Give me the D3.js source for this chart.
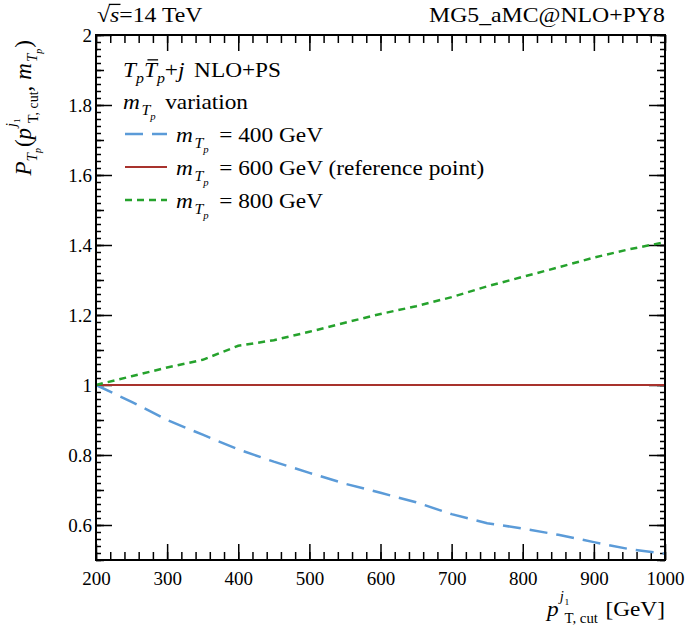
<!DOCTYPE html>
<html><head><meta charset="utf-8">
<script src="https://cdn.jsdelivr.net/npm/d3@7"></script>
<style>
body{margin:0;background:#fff}
text{font-family:"Liberation Serif","Times New Roman",serif;fill:#000}
</style>
</head><body>
<svg id="c" width="685" height="638"></svg>
<script>
// ---- data ----
const ptCut   = [200,250,300,350,400,450,500,550,600,650,700,750,800,850,900,950,1000];
const ratio400 = [1.000,0.952,0.900,0.858,0.816,0.781,0.749,0.718,0.692,0.665,0.631,0.605,0.590,0.572,0.551,0.531,0.518];
const ratio600 = [1,1,1,1,1,1,1,1,1,1,1,1,1,1,1,1,1];
const ratio800 = [1.000,1.025,1.050,1.072,1.112,1.128,1.152,1.178,1.203,1.225,1.251,1.282,1.309,1.336,1.364,1.388,1.408];
const seriesLabels = ["= 400 GeV","= 600 GeV (reference point)","= 800 GeV"];
const xTickLabels = ["200","300","400","500","600","700","800","900","1000"];
const yTickLabels = ["0.6","0.8","1","1.2","1.4","1.6","1.8","2"];

const svg = d3.select("#c");
const L=96, R=665, T=35, B=560;
const SX = 1.06; // horizontal text stretch
const x = d3.scaleLinear().domain([200,1000]).range([L,R]);
const y = d3.scaleLinear().domain([0.5,2]).range([B,T]);

const series = [
  {vals:ratio400, color:"#5b9bd8", dash:"18,9", w:2.5},
  {vals:ratio600, color:"#a8322d", dash:null, w:2.2},
  {vals:ratio800, color:"#25a22c", dash:"7,5", w:2.5}
];

// ---- axes / ticks ----
const xMajor = xTickLabels.map(Number);
const xMinor = d3.range(200,1001,20);
const yMajor = yTickLabels.map(Number);
const yMid = d3.range(5,21).map(i=>+(i*0.1).toFixed(2));
const yMinor = d3.range(25,101).map(i=>+(i*0.02).toFixed(2));

function axisG(axis, tx, ty){
  const g = svg.append("g").attr("transform",`translate(${tx},${ty})`).call(axis);
  g.attr("font-family",null).attr("font-size",null);
  g.select(".domain").remove();
  g.selectAll(".tick line").attr("stroke","#000").attr("stroke-width",1.5);
  g.selectAll(".tick text").attr("font-size",19).attr("fill","#000");
  return g;
}
// bottom
axisG(d3.axisBottom(x).tickValues(xMinor).tickSize(-8).tickFormat(""),0,B);
const xa = axisG(d3.axisBottom(x).tickValues(xMajor).tickSize(-16).tickFormat((d,i)=>xTickLabels[i]),0,B);
xa.selectAll(".tick text").attr("y",25).attr("dy",null);
// top
axisG(d3.axisTop(x).tickValues(xMinor).tickSize(-8).tickFormat(""),0,T);
axisG(d3.axisTop(x).tickValues(xMajor).tickSize(-16).tickFormat(""),0,T);
// left
axisG(d3.axisLeft(y).tickValues(yMinor).tickSize(-5).tickFormat(""),L,0);
axisG(d3.axisLeft(y).tickValues(yMid).tickSize(-8).tickFormat(""),L,0);
const ya = axisG(d3.axisLeft(y).tickValues(yMajor).tickSize(-16).tickFormat((d,i)=>yTickLabels[i]),L,0);
ya.selectAll(".tick text").attr("x",-4).attr("dy","0.33em");
// right
axisG(d3.axisRight(y).tickValues(yMinor).tickSize(-5).tickFormat(""),R,0);
axisG(d3.axisRight(y).tickValues(yMid).tickSize(-8).tickFormat(""),R,0);
axisG(d3.axisRight(y).tickValues(yMajor).tickSize(-16).tickFormat(""),R,0);

// ---- lines ----
const line = d3.line().x((d,i)=>x(ptCut[i])).y(d=>y(d));
series.forEach(s=>{
  svg.append("path").attr("d",line(s.vals)).attr("fill","none")
    .attr("stroke",s.color).attr("stroke-width",s.w)
    .attr("stroke-dasharray",s.dash);
});

// frame
svg.append("rect").attr("x",L).attr("y",T).attr("width",R-L).attr("height",B-T)
  .attr("fill","none").attr("stroke","#000").attr("stroke-width",2);

// ---- rich text helper ----
function rich(parent, runs){
  const g = parent.append("g");
  let xx=0, prevStart=0;
  runs.forEach(r=>{
    const start = (r.under ? prevStart : xx) + (r.dx||0);
    const t = g.append("text").attr("x",start).attr("y",r.dy||0)
      .attr("font-size",r.s).style("font-style",r.i?"italic":"normal").text(r.t);
    const w = t.node().getComputedTextLength();
    if(r.over){
      g.append("line").attr("x1",start+r.s*(r.ox||0.15)).attr("x2",start+w+r.s*0.05)
        .attr("y1",(r.dy||0)-r.s*(r.oy||0.78)).attr("y2",(r.dy||0)-r.s*(r.oy||0.78))
        .attr("stroke","#000").attr("stroke-width",1.3);
    }
    const end = start + w;
    if(r.under){ xx = Math.max(xx,end); }
    else { xx = end; prevStart = start; }
  });
  return {g, width:xx};
}
const mT = (s)=>[
  {t:"m",s:s,i:true},
  {t:"T",s:s*0.68,i:true,dy:s*0.27,dx:1.5},
  {t:"p",s:s*0.46,i:true,dy:s*0.5}
];

// ---- header ----
{
  const r = rich(svg,[
    {t:"√",s:22},
    {t:"s",s:22,i:true,over:true,ox:-0.05,oy:0.8},
    {t:"=14 TeV",s:22}
  ]);
  r.g.attr("transform",`translate(97,22) scale(${SX+0.02},1)`);
  const r2 = rich(svg,[{t:"MG5_aMC@NLO+PY8",s:22}]);
  r2.g.attr("transform",`translate(${R-r2.width*(SX+0.02)},22) scale(${SX+0.02},1)`);
}

// ---- legend ----
{
  const r = rich(svg,[
    {t:"T",s:22,i:true},{t:"p",s:15,i:true,dy:6},
    {t:"T",s:22,i:true,over:true},{t:"p",s:15,i:true,dy:6},
    {t:"+",s:22},{t:"j",s:22,i:true},
    {t:"NLO+PS",s:22,dx:9}
  ]);
  r.g.attr("transform",`translate(123,77) scale(${SX},1)`);
  const r2 = rich(svg,[...mT(22),{t:"variation",s:22,dx:9}]);
  r2.g.attr("transform",`translate(123,109) scale(${SX},1)`);
  series.forEach((s,k)=>{
    const ly = 134 + k*33;
    svg.append("line").attr("x1",125).attr("x2",167).attr("y1",ly).attr("y2",ly)
      .attr("stroke",s.color).attr("stroke-width",s.w).attr("stroke-dasharray",s.dash);
    const rr = rich(svg,[...mT(22),{t:seriesLabels[k],s:22,dx:10}]);
    rr.g.attr("transform",`translate(176,${ly+8}) scale(${SX},1)`);
  });
}

// ---- axis titles ----
{
  const r = rich(svg,[
    {t:"p",s:22,i:true},
    {t:"j",s:14,i:true,dy:-15,dx:1},{t:"1",s:9,dy:-11,dx:0.5},
    {t:"T, cut",s:14,dy:7,under:true},
    {t:"[GeV]",s:22,dx:7}
  ]);
  r.g.attr("transform",`translate(${R-r.width*SX},616) scale(${SX},1)`);
}
{
  const g0 = svg.append("g");
  const r = rich(g0,[
    {t:"P",s:23,i:true},
    {t:"T",s:15,i:true,dy:6},{t:"p",s:10,i:true,dy:10},
    {t:"(",s:23,dx:1},
    {t:"p",s:23,i:true},
    {t:"j",s:14,i:true,dy:-15,dx:1},{t:"1",s:9,dy:-11},
    {t:"T, cut",s:14,dy:7,under:true},
    {t:",",s:23},
    {t:"m",s:23,i:true,dx:6},{t:"T",s:15,i:true,dy:6,dx:1},{t:"p",s:10,i:true,dy:11},
    {t:")",s:23,dx:1}
  ]);
  r.g.attr("transform",`translate(31,${40+r.width}) rotate(-90)`);
}
</script>
</body></html>
